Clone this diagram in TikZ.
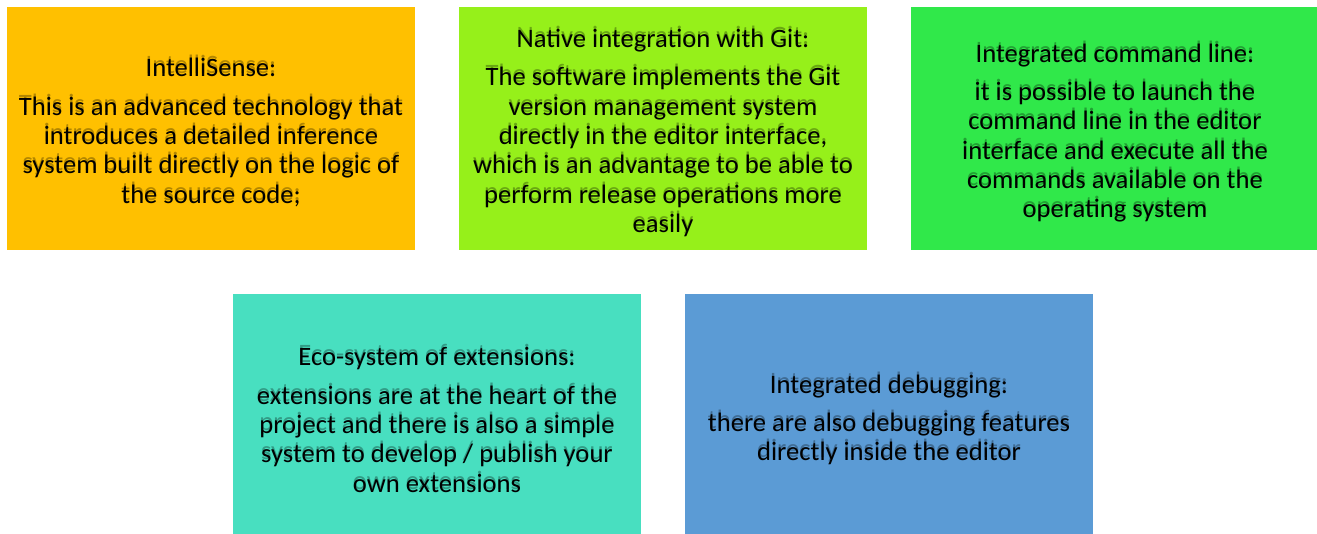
\documentclass[tikz,border=0pt]{standalone}
\usepackage{fontspec}
\setmainfont{Carlito}
\definecolor{cone}{HTML}{FFC000}
\definecolor{ctwo}{HTML}{96F01A}
\definecolor{cthree}{HTML}{30E84A}
\definecolor{cfour}{HTML}{48DFC0}
\definecolor{cfive}{HTML}{5B9BD5}
\tikzset{
  featbox/.style={draw=none, fill=#1, minimum width=408pt, minimum height=243pt, inner sep=0pt},
  feattxt/.style={align=center, inner sep=0pt, font=\fontsize{26.6}{29.3}\selectfont, text=black},
  featshd/.style={feattxt, text=black, text opacity=0.3},
}
\begin{document}
\begin{tikzpicture}[x=1pt,y=-1pt]
\useasboundingbox (0,0) rectangle (1317,534);
\node[featbox=cone] (b1) at (211,128.5) {};
\node[featbox=ctwo] (b2) at (663,128.5) {};
\node[featbox=cthree] (b3) at (1115,128.5) {};
\node[featbox=cfour] (b4) at (437,415.5) {};
\node[featbox=cfive] (b5) at (889,415.5) {};
\newcommand\ttone{IntelliSense:\\[9pt]This is an advanced technology that\\introduces a detailed inference\\system built directly on the logic of\\the source code;}
\newcommand\tttwo{Native integration with Git:\\[9pt]The software implements the Git\\version management system\\directly in the editor interface,\\which is an advantage to be able to\\perform release operations more\\easily}
\newcommand\ttthree{Integrated command line:\\[9pt]it is possible to launch the\\command line in the editor\\interface and execute all the\\commands available on the\\operating system}
\newcommand\ttfour{Eco-system of extensions:\\[9pt]extensions are at the heart of the\\project and there is also a simple\\system to develop / publish your\\own extensions}
\newcommand\ttfive{Integrated debugging:\\[9pt]there are also debugging features\\directly inside the editor}
\node[featshd] (s1) at ([yshift=-1pt]b1.center) {\ttone};
\node[feattxt] (t1) at ([yshift=-4pt]b1.center) {\ttone};
\node[featshd] (s2) at ([yshift=-1.5pt]b2.center) {\tttwo};
\node[feattxt] (t2) at ([yshift=-4.5pt]b2.center) {\tttwo};
\node[featshd] (s3) at ([yshift=-1.5pt]b3.center) {\ttthree};
\node[feattxt] (t3) at ([yshift=-4.5pt]b3.center) {\ttthree};
\node[featshd] (s4) at ([yshift=-1.5pt]b4.center) {\ttfour};
\node[feattxt] (t4) at ([yshift=-4.5pt]b4.center) {\ttfour};
\node[featshd] (s5) at ([yshift=-1.5pt]b5.center) {\ttfive};
\node[feattxt] (t5) at ([yshift=-4.5pt]b5.center) {\ttfive};
\end{tikzpicture}
\end{document}
